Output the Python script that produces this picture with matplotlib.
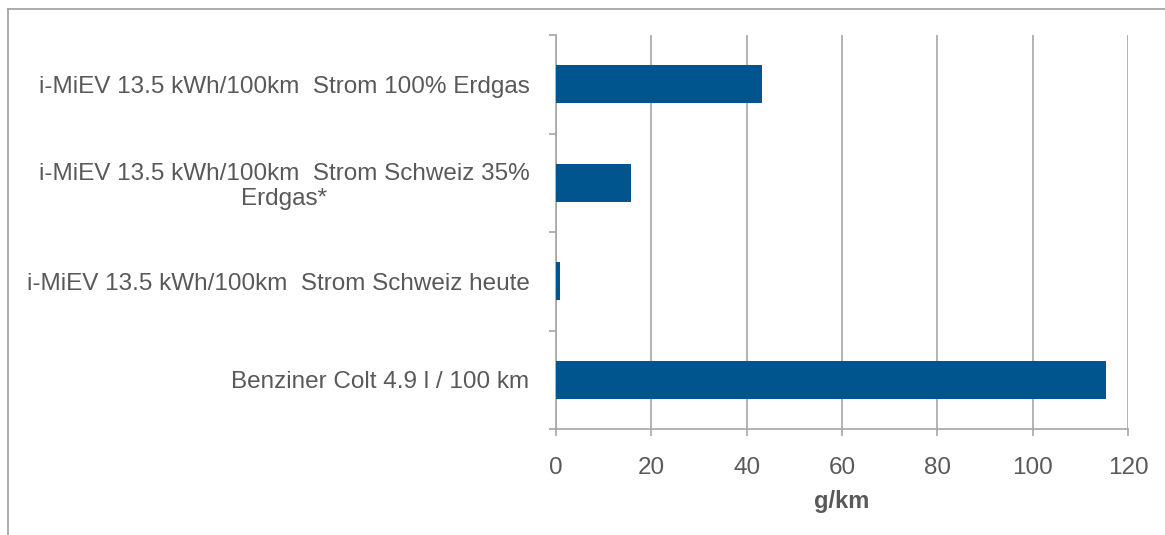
#! /usr/bin/env python3

import matplotlib
matplotlib.use("Agg")
import matplotlib.pyplot as plt
from matplotlib.lines import Line2D

# data (top to bottom in the chart)
labels = [
    "i-MiEV 13.5 kWh/100km  Strom 100% Erdgas",
    "i-MiEV 13.5 kWh/100km  Strom Schweiz 35%\nErdgas*",
    "i-MiEV 13.5 kWh/100km  Strom Schweiz heute",
    "Benziner Colt 4.9 l / 100 km",
]
values = [43.3, 15.8, 0.9, 115.4]
xticks = [0, 20, 40, 60, 80, 100, 120]

bar_color = "#00558e"
grid_color = "#a6a6a6"
text_color = "#595959"

plt.rcParams["font.family"] = ["Liberation Sans", "DejaVu Sans"]

fig = plt.figure(figsize=(11.65, 5.35), dpi=100)
ax = fig.add_axes([556 / 1165, 106 / 535, 572 / 1165, 394 / 535])

n = len(labels)
ypos = [n - 1 - i for i in range(n)]
ax.barh(ypos, values, height=0.39, color=bar_color, zorder=3)

ax.set_xlim(0, 120)
ax.set_ylim(-0.5, n - 0.5)
ax.set_xticks(xticks)
ax.set_xticklabels([str(t) for t in xticks])

# category labels centred between boundary ticks
ax.set_yticks([y - 0.5 for y in range(n + 1)])
ax.set_yticklabels([])
ax.set_yticks(ypos, minor=True)
ax.set_yticklabels(labels, minor=True, multialignment="center", linespacing=1.15)
ax.tick_params(axis="y", which="minor", length=0, pad=19,
               labelsize=17.5, labelcolor=text_color)
ax.tick_params(axis="y", which="major", length=5, width=1.2, color=grid_color)
ax.tick_params(axis="x", length=5, width=1.2, color=grid_color, pad=15,
               labelsize=17.5, labelcolor=text_color)

ax.grid(axis="x", color=grid_color, linewidth=1.2, zorder=0)
for s in ["top", "right"]:
    ax.spines[s].set_visible(False)
for s in ["left", "bottom"]:
    ax.spines[s].set_color(grid_color)
    ax.spines[s].set_linewidth(1.2)

ax.set_xlabel("g/km", fontsize=17, fontweight="bold", color=text_color, labelpad=8)

# outer frame (only top and left visible in the crop)
fig.add_artist(Line2D([8 / 1165, 8 / 1165], [0, 1 - 9 / 535],
                      transform=fig.transFigure, color="#a0a0a0", lw=1.2))
fig.add_artist(Line2D([8 / 1165, 1], [1 - 9 / 535, 1 - 9 / 535],
                      transform=fig.transFigure, color="#a0a0a0", lw=1.2))

fig.savefig("out.png", dpi=100)
plt.close(fig)
